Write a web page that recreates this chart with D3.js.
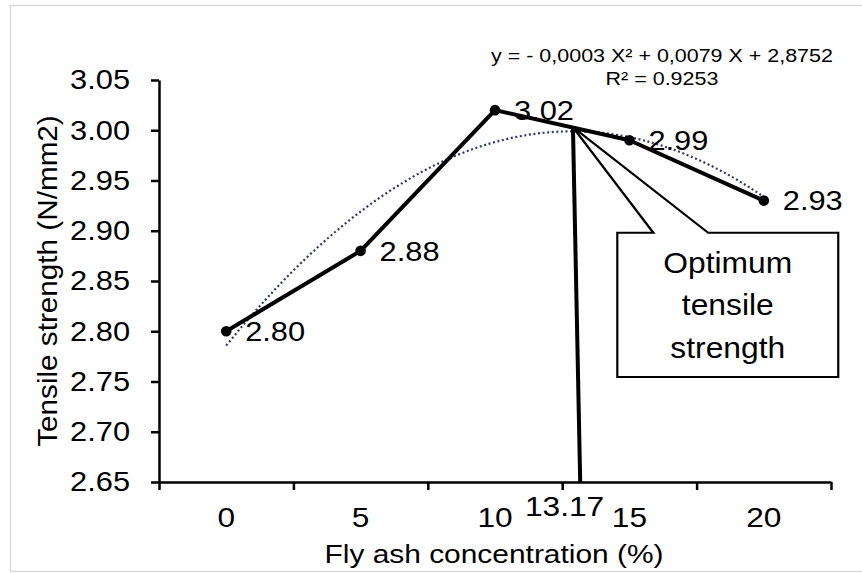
<!DOCTYPE html>
<html>
<head>
<meta charset="utf-8">
<script src="https://cdn.jsdelivr.net/npm/d3@7"></script>
<style>
  html, body { margin: 0; padding: 0; background: #ffffff; }
  svg { display: block; }
  text { font-family: "Liberation Sans", Arial, sans-serif; fill: #000; }
</style>
</head>
<body>
<svg id="chart" width="862" height="573"></svg>
<script>
// ---------------- data ----------------
const categories = ["0", "5", "10", "15", "20"];
const flyAsh = [0, 5, 10, 15, 20];
const tensile = [2.80, 2.88, 3.02, 2.99, 2.93];
const yDomain = [2.65, 3.05];
const yTicks = [2.65, 2.70, 2.75, 2.80, 2.85, 2.90, 2.95, 3.00, 3.05];
const xTitle = "Fly ash concentration  (%)";
const yTitle = "Tensile strength  (N/mm2)";
const equationLines = ["y = - 0,0003 X\u00B2 + 0,0079 X + 2,8752", "R\u00B2 = 0.9253"];
const calloutLines = ["Optimum", "tensile", "strength"];
const optimumX = 13.17;          // value marked on the x axis
const optimumLabel = "13.17";
const apexX = 12.9;              // where the optimum marker meets the curve
const apexY = 3.003;
// callout box corners and wedge base, in data units (x: %, y: N/mm2)
const calloutBox = { x0: 14.55, x1: 22.77, y0: 2.898, y1: 2.7545 };
const calloutWedge = [15.89, 17.93];

// ---------------- layout ----------------
const W = 862, H = 573;
const margin = { left: 159, right: 31, top: 80, bottom: 91 };
const plotW = W - margin.left - margin.right;
const plotH = H - margin.top - margin.bottom;
const SX = 1.13; // horizontal text stretch of the original picture

const svg = d3.select("#chart");

// outer chart border
svg.append("rect")
  .attr("x", 10.5).attr("y", 5.5)
  .attr("width", 880).attr("height", 566)
  .attr("fill", "none").attr("stroke", "#d9d9d9").attr("stroke-width", 1.5);

const g = svg.append("g").attr("transform", `translate(${margin.left},${margin.top})`);

const xBand = d3.scaleBand().domain(categories).range([0, plotW]).padding(0);
const xEdge = d3.scaleLinear().domain([0, categories.length]).range([0, plotW]);
const xLin = d3.scaleLinear()
  .domain([flyAsh[0], flyAsh[flyAsh.length - 1]])
  .range([xBand(categories[0]) + xBand.bandwidth() / 2,
          xBand(categories[categories.length - 1]) + xBand.bandwidth() / 2]);
const y = d3.scaleLinear().domain(yDomain).range([plotH, 0]);

function stretch(sel, f) {
  sel.each(function () {
    const w = this.getComputedTextLength();
    this.setAttribute("textLength", w * f);
    this.setAttribute("lengthAdjust", "spacingAndGlyphs");
  });
}

// ---------------- axes ----------------
const yAxis = g.append("g")
  .call(d3.axisLeft(y).tickValues(yTicks).tickFormat(d3.format(".2f"))
    .tickSize(8).tickSizeOuter(0).tickPadding(21));
yAxis.selectAll("path, line").attr("stroke", "#000").attr("stroke-width", 2.5);
yAxis.selectAll("text").attr("font-size", 28).attr("fill", "#000")
  .attr("font-family", "'Liberation Sans', Arial, sans-serif");
stretch(yAxis.selectAll("text"), 1.1);

const xEdgeAxis = g.append("g").attr("transform", `translate(0,${plotH})`)
  .call(d3.axisBottom(xEdge).tickValues(d3.range(categories.length + 1))
    .tickFormat("").tickSize(8).tickSizeOuter(0));
xEdgeAxis.selectAll("path, line").attr("stroke", "#000").attr("stroke-width", 2.5);

const xLabAxis = g.append("g").attr("transform", `translate(0,${plotH})`)
  .call(d3.axisBottom(xBand).tickSize(0).tickPadding(25));
xLabAxis.select(".domain").remove();
xLabAxis.selectAll("text").attr("font-size", 28).attr("fill", "#000")
  .attr("font-family", "'Liberation Sans', Arial, sans-serif");
stretch(xLabAxis.selectAll("text"), SX);

// axis titles
const xt = svg.append("text")
  .attr("x", 494).attr("y", 563)
  .attr("text-anchor", "middle").attr("font-size", 26)
  .text(xTitle);
stretch(xt, 1.15);

const yt = svg.append("text")
  .attr("transform", "translate(57,281) rotate(-90)")
  .attr("text-anchor", "middle").attr("font-size", 28)
  .text(yTitle);
stretch(yt, 1.06);

// ---------------- trendline (2nd order polynomial least squares fit) ----------------
function polyFit2(xs, ys) {
  // normal equations for y = a + b x + c x^2
  const S = k => d3.sum(xs, v => Math.pow(v, k));
  const T = k => d3.sum(xs.map((v, i) => Math.pow(v, k) * ys[i]));
  const A = [[S(0), S(1), S(2), T(0)], [S(1), S(2), S(3), T(1)], [S(2), S(3), S(4), T(2)]];
  for (let i = 0; i < 3; i++) {
    for (let r = i + 1; r < 3; r++) {
      const f = A[r][i] / A[i][i];
      for (let c = i; c < 4; c++) A[r][c] -= f * A[i][c];
    }
  }
  const sol = [0, 0, 0];
  for (let i = 2; i >= 0; i--) {
    let s = A[i][3];
    for (let c = i + 1; c < 3; c++) s -= A[i][c] * sol[c];
    sol[i] = s / A[i][i];
  }
  return sol;
}
const coef = polyFit2(flyAsh, tensile);
const trendPts = d3.range(flyAsh[0], flyAsh[flyAsh.length - 1] + 0.001, 0.25)
  .map(v => [v, coef[0] + coef[1] * v + coef[2] * v * v]);

g.append("path")
  .datum(trendPts)
  .attr("fill", "none")
  .attr("stroke", "#2e3a6a")
  .attr("stroke-width", 2.2)
  .attr("stroke-dasharray", "2,2.6")
  .attr("d", d3.line().x(d => xLin(d[0])).y(d => y(d[1])));

// ---------------- data labels ----------------
const labels = g.append("g").selectAll("text")
  .data(tensile)
  .join("text")
  .attr("x", (d, i) => xBand(categories[i]) + xBand.bandwidth() / 2 + 19)
  .attr("y", d => y(d))
  .attr("dy", "0.35em")
  .attr("font-size", 28)
  .text(d => d3.format(".2f")(d));
stretch(labels, 1.1);

// ---------------- data line ----------------
const lineGen = d3.line()
  .x((d, i) => xBand(categories[i]) + xBand.bandwidth() / 2)
  .y(d => y(d));
g.append("path")
  .datum(tensile)
  .attr("fill", "none")
  .attr("stroke", "#000")
  .attr("stroke-width", 4)
  .attr("stroke-linejoin", "round")
  .attr("d", lineGen);
g.append("g").selectAll("circle")
  .data(tensile)
  .join("circle")
  .attr("cx", (d, i) => xBand(categories[i]) + xBand.bandwidth() / 2)
  .attr("cy", d => y(d))
  .attr("r", 5.3)
  .attr("fill", "#000");

// ---------------- optimum marker ----------------
g.append("line")
  .attr("x1", xLin(apexX)).attr("y1", y(apexY))
  .attr("x2", xLin(optimumX)).attr("y2", plotH)
  .attr("stroke", "#000").attr("stroke-width", 4);

const optLab = g.append("text")
  .attr("x", xLin(optimumX) + 24).attr("y", plotH + 34)
  .attr("text-anchor", "end").attr("font-size", 28)
  .text(optimumLabel);
stretch(optLab, SX);

// callout (wedge rectangle)
const bx0 = xLin(calloutBox.x0), bx1 = xLin(calloutBox.x1);
const by0 = y(calloutBox.y0), by1 = y(calloutBox.y1);
const wx0 = xLin(calloutWedge[0]), wx1 = xLin(calloutWedge[1]);
const ax = xLin(apexX), ay = y(apexY);
const callPath = d3.path();
callPath.moveTo(bx0, by0);
callPath.lineTo(wx0, by0);
callPath.lineTo(ax, ay);
callPath.lineTo(wx1, by0);
callPath.lineTo(bx1, by0);
callPath.lineTo(bx1, by1);
callPath.lineTo(bx0, by1);
callPath.closePath();
g.append("path")
  .attr("d", callPath.toString())
  .attr("fill", "#fff")
  .attr("stroke", "#000")
  .attr("stroke-width", 2.2)
  .attr("stroke-linejoin", "miter");

const cx = (bx0 + bx1) / 2;
const ct = g.append("g").selectAll("text")
  .data(calloutLines)
  .join("text")
  .attr("x", cx)
  .attr("y", (d, i) => by0 + 40 + i * 42.5)
  .attr("text-anchor", "middle")
  .attr("font-family", "Carlito, Calibri, Lato, 'Open Sans', sans-serif")
  .attr("font-size", 30)
  .text(d => d);
stretch(ct, 1.06);

// equation
const eq = svg.append("g").selectAll("text")
  .data(equationLines)
  .join("text")
  .attr("x", 662)
  .attr("y", (d, i) => 62 + i * 23)
  .attr("text-anchor", "middle")
  .attr("font-size", 18.5)
  .text(d => d);
stretch(eq, 1.16);
</script>
</body>
</html>
